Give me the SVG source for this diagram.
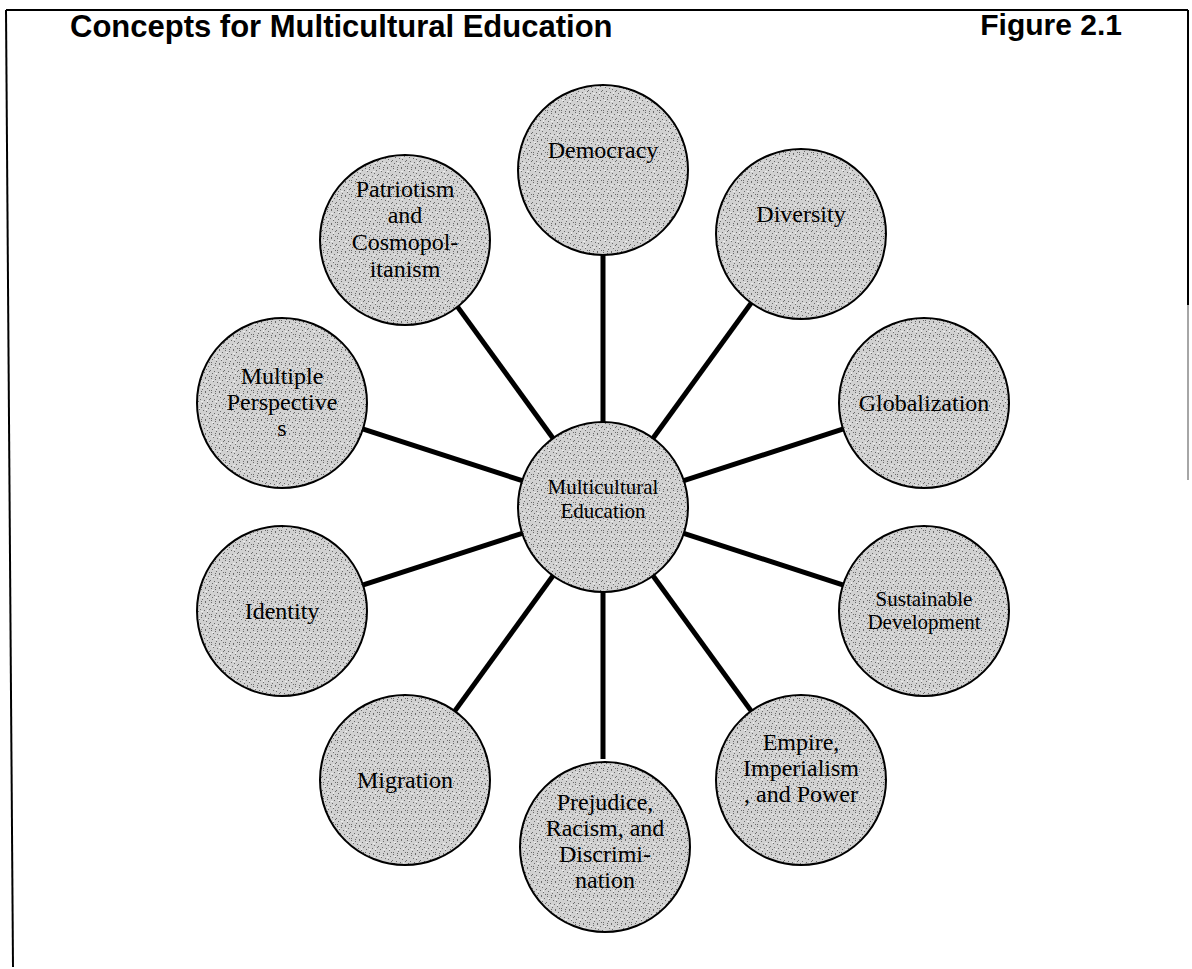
<svg xmlns="http://www.w3.org/2000/svg" width="1192" height="969" viewBox="0 0 1192 969">
<defs>
<pattern id="stip" width="14" height="14" patternUnits="userSpaceOnUse">
<rect width="14" height="14" fill="#d1d1d1"/>
<g fill="#6a6a6a">
<rect x="1" y="0" width="1" height="1"/><rect x="5" y="1" width="1" height="1"/><rect x="9" y="0" width="1" height="1"/><rect x="12" y="2" width="1" height="1"/>
<rect x="3" y="3" width="1" height="1"/><rect x="7" y="4" width="1" height="1"/><rect x="10" y="5" width="1" height="1"/><rect x="0" y="6" width="1" height="1"/>
<rect x="4" y="7" width="1" height="1"/><rect x="13" y="7" width="1" height="1"/><rect x="2" y="9" width="1" height="1"/><rect x="8" y="8" width="1" height="1"/>
<rect x="11" y="10" width="1" height="1"/><rect x="6" y="11" width="1" height="1"/><rect x="1" y="12" width="1" height="1"/><rect x="9" y="13" width="1" height="1"/>
<rect x="13" y="12" width="1" height="1"/><rect x="5" y="13" width="1" height="1"/>
</g>
<g fill="#ececec">
<rect x="2" y="2" width="2" height="1"/><rect x="9" y="3" width="2" height="1"/><rect x="5" y="9" width="2" height="1"/><rect x="11" y="8" width="1" height="2"/>
</g>
</pattern>
<style>
.node{fill:url(#stip);stroke:#000;stroke-width:2}
.lbl{font-family:"Liberation Serif","Times New Roman",serif;font-size:24px;fill:#000;text-anchor:middle}
.sm{font-size:21px}
.ttl{font-family:"Liberation Sans",Arial,sans-serif;font-weight:bold;fill:#000}
.conn{stroke:#000;stroke-width:5;stroke-linecap:butt}
.frame{stroke:#000;stroke-width:2;fill:none}
</style>
</defs>
<rect width="1192" height="969" fill="#fff"/>
<g id="frame">
<line class="frame" x1="6" y1="10" x2="1188" y2="10"/>
<line class="frame" x1="6" y1="10" x2="13" y2="967"/>
<line class="frame" x1="1188" y1="10" x2="1188" y2="305"/>
<line x1="1188" y1="305" x2="1188" y2="480" stroke="#888" stroke-width="1.5"/>
</g>
<g id="title">
<text class="ttl" x="70" y="37" font-size="31">Concepts for Multicultural Education</text>
<text class="ttl" x="1122" y="35" font-size="30" text-anchor="end">Figure 2.1</text>
</g>
<g id="connectors">
<line class="conn" x1="603" y1="422" x2="603" y2="255"/>
<line class="conn" x1="653" y1="438.2" x2="751.1" y2="303.1"/>
<line class="conn" x1="683.8" y1="480.7" x2="842.7" y2="429.1"/>
<line class="conn" x1="683.8" y1="533.3" x2="842.7" y2="584.9"/>
<line class="conn" x1="653" y1="575.8" x2="751.1" y2="710.9"/>
<line class="conn" x1="603" y1="592" x2="603" y2="759"/>
<line class="conn" x1="553" y1="575.8" x2="454.9" y2="710.9"/>
<line class="conn" x1="522.2" y1="533.3" x2="363.3" y2="584.9"/>
<line class="conn" x1="522.2" y1="480.7" x2="363.3" y2="429.1"/>
<line class="conn" x1="553" y1="438.2" x2="454.9" y2="303.1"/>
</g>
<g id="center">
<circle class="node" cx="603" cy="507" r="85"/>
<text class="lbl sm" x="603" y="494">Multicultural</text>
<text class="lbl sm" x="603" y="518">Education</text>
</g>
<g id="democracy">
<circle class="node" cx="603" cy="170" r="85"/>
<text class="lbl" x="603" y="158">Democracy</text>
</g>
<g id="diversity">
<circle class="node" cx="801" cy="234" r="85"/>
<text class="lbl" x="801" y="222">Diversity</text>
</g>
<g id="globalization">
<circle class="node" cx="924" cy="403" r="85"/>
<text class="lbl" x="924" y="411">Globalization</text>
</g>
<g id="sustainable">
<circle class="node" cx="924" cy="611" r="85"/>
<text class="lbl sm" x="924" y="606">Sustainable</text>
<text class="lbl sm" x="924" y="629">Development</text>
</g>
<g id="empire">
<circle class="node" cx="801" cy="780" r="85"/>
<text class="lbl" x="801" y="750">Empire,</text>
<text class="lbl" x="801" y="776">Imperialism</text>
<text class="lbl" x="801" y="802">, and Power</text>
</g>
<g id="prejudice">
<circle class="node" cx="605" cy="847" r="85"/>
<text class="lbl" x="605" y="810">Prejudice,</text>
<text class="lbl" x="605" y="836">Racism, and</text>
<text class="lbl" x="605" y="862">Discrimi-</text>
<text class="lbl" x="605" y="888">nation</text>
</g>
<g id="migration">
<circle class="node" cx="405" cy="780" r="85"/>
<text class="lbl" x="405" y="788">Migration</text>
</g>
<g id="identity">
<circle class="node" cx="282" cy="611" r="85"/>
<text class="lbl" x="282" y="619">Identity</text>
</g>
<g id="multiple">
<circle class="node" cx="282" cy="403" r="85"/>
<text class="lbl" x="282" y="384">Multiple</text>
<text class="lbl" x="282" y="410">Perspective</text>
<text class="lbl" x="282" y="436">s</text>
</g>
<g id="patriotism">
<circle class="node" cx="405" cy="240" r="85"/>
<text class="lbl" x="405" y="197">Patriotism</text>
<text class="lbl" x="405" y="223">and</text>
<text class="lbl" x="405" y="250">Cosmopol-</text>
<text class="lbl" x="405" y="277">itanism</text>
</g>
</svg>
